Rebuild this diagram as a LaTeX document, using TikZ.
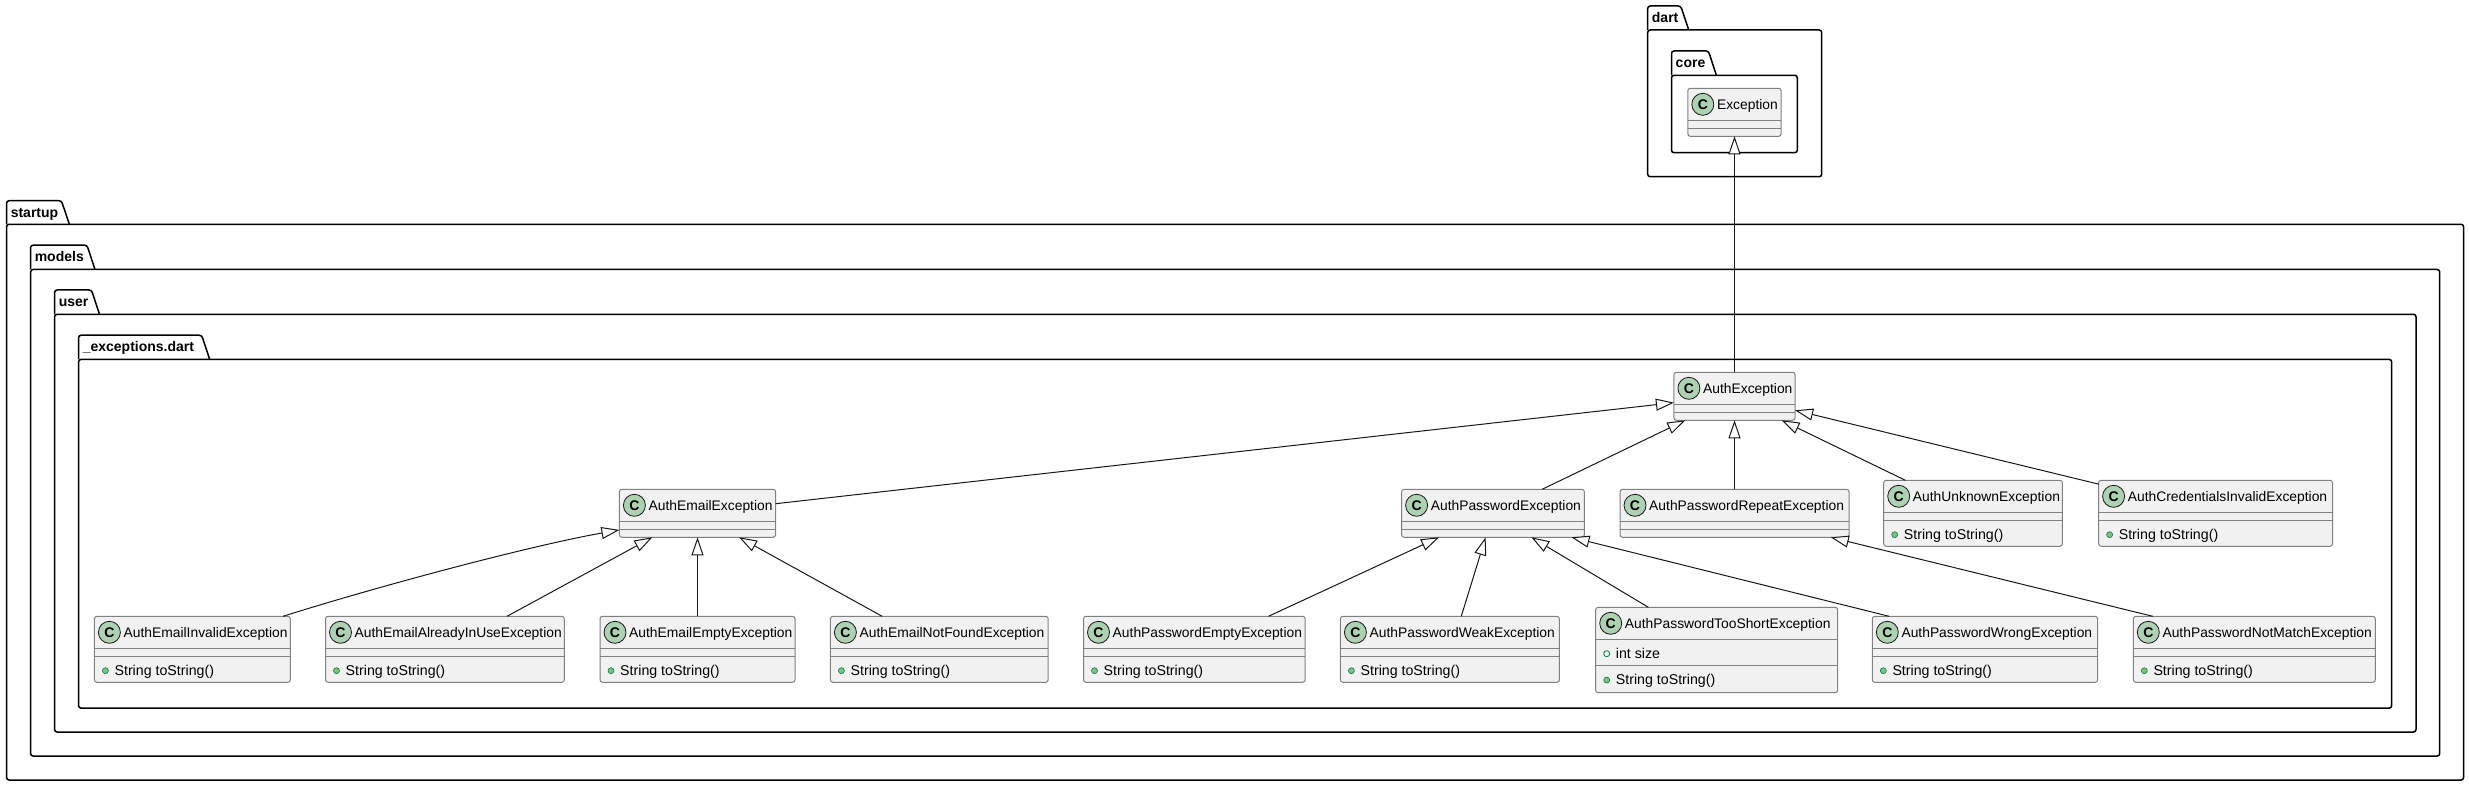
\documentclass[tikz,border=0pt]{standalone}
\usepackage{fontspec}
\setmainfont{Liberation Sans}
\usetikzlibrary{arrows.meta}
\definecolor{classfill}{HTML}{F1F1F1}
\definecolor{classline}{HTML}{808080}
\definecolor{classicon}{HTML}{ADD1B2}
\definecolor{darkline}{HTML}{181818}
\definecolor{methodfill}{HTML}{84BE84}
\definecolor{methodline}{HTML}{038048}
\tikzset{
  pkgbody/.style = {draw = black, line width = 1.5pt, rounded corners = 2.5pt, inner sep = 0pt, outer sep = 0pt},
  pkgtab/.style = {draw = black, line width = 1.5pt, rounded corners = 2.5pt},
  pkglabel/.style = {anchor = base west, inner sep = 0pt, font = \fontsize{14}{16}\selectfont\bfseries},
  classframe/.style = {draw = classline, fill = classfill, line width = 1pt, rounded corners = 2.5pt, inner sep = 0pt, outer sep = 0pt},
  classsep/.style = {draw = classline, line width = 1pt},
  classcircle/.style = {circle, draw = darkline, fill = classicon, line width = 0.8pt, minimum size = 22pt, inner sep = 0pt, font = \fontsize{14}{16}\selectfont\bfseries},
  classtitle/.style = {anchor = base west, inner sep = 0pt, font = \fontsize{13.85}{16}\selectfont},
  classmember/.style = {anchor = base west, inner sep = 0pt, font = \fontsize{14.2}{16}\selectfont},
  methoddot/.style = {circle, draw = methodline, fill = methodfill, line width = 0.6pt, minimum size = 6pt, inner sep = 0pt},
  fielddot/.style = {circle, draw = methodline, fill = classfill, line width = 0.8pt, minimum size = 6pt, inner sep = 0pt},
  extends/.style = {draw = darkline, line width = 1pt, -{Triangle[fill = white, length = 18pt, width = 12pt]}}
}
\newcommand{\pkgbox}[8]{
  \node[pkgbody, minimum width = {(#4-#3)*1pt}, minimum height = {(#7-#6)*1pt}] (#1) at ({(#3+#4)/2}, {(#6+#7)/2}) {};
  \draw[pkgtab] (#1.north west) -- (#3, #5) -- ({#8-8}, #5) -- (#8, #6);
  \node[pkglabel] (#1Tab) at ({#3+4}, {#5+16.5}) {#2};
}
\newcommand{\classbox}[7]{
  \node[classframe, minimum width = {(#3-#2)*1pt}, minimum height = {(#5-#4)*1pt}] (#1) at ({(#2+#3)/2}, {(#4+#5)/2}) {};
  \draw[classsep] ([yshift = -32pt]#1.north west) -- ([yshift = -32pt]#1.north east);
  \draw[classsep] ([yshift = -#7pt]#1.north west) -- ([yshift = -#7pt]#1.north east);
  \node[classcircle] (#1Icon) at ({#2+15}, {#4+16}) {C};
  \node[classtitle] (#1Title) at ({#2+29}, {#4+21}) {#6};
}
\newcommand{\classrow}[6]{
  \node[#4] (#1Dot#5) at ({#2+11}, {#3-4.6}) {};
  \node[classmember] (#1Row#5) at ({#2+20}, #3) {#6};
}
\begin{document}
\begin{tikzpicture}[x = 1pt, y = -1pt]
\useasboundingbox (0, 0) rectangle (2469, 786);
\pkgbox{Dart}{dart}{1647.7}{1821.7}{6}{30}{176.7}{1688.7}
\pkgbox{Core}{core}{1671.5}{1797.3}{51}{75.3}{152.7}{1716.4}
\pkgbox{Startup}{startup}{6.6}{2463.6}{200.7}{224.3}{780}{69.4}
\pkgbox{Models}{models}{30.6}{2439.7}{245.2}{269.5}{756}{95}
\pkgbox{User}{user}{54.6}{2416}{290}{314.3}{732}{99.5}
\pkgbox{Dartfile}{\_exceptions.dart}{78.6}{2391.6}{335.2}{359.4}{708.2}{209.7}
\classbox{Exc}{1687.8}{1781.2}{88.3}{136.3}{Exception}{40}
\classbox{Auth}{1673.9}{1795.1}{372.3}{420.3}{AuthException}{40}
\classbox{Em}{619.4}{775.6}{489.3}{537.3}{AuthEmailException}{40}
\classbox{Pw}{1401.6}{1584.3}{489.3}{537.3}{AuthPasswordException}{40}
\classbox{Rep}{1620}{1849}{489.3}{537.3}{AuthPasswordRepeatException}{40}
\classbox{Unk}{1883.7}{2062.4}{480.3}{546.3}{AuthUnknownException}{40}
\classbox{Cred}{2098.6}{2332.5}{480.3}{546.3}{AuthCredentialsInvalidException}{40}
\classbox{EmInv}{94.4}{290.3}{616.3}{682.3}{AuthEmailInvalidException}{40}
\classbox{EmUse}{325.5}{564.3}{616.3}{682.3}{AuthEmailAlreadyInUseException}{40}
\classbox{EmEmp}{600}{795}{616.3}{682.3}{AuthEmailEmptyException}{40}
\classbox{EmNf}{830.4}{1048.2}{616.3}{682.3}{AuthEmailNotFoundException}{40}
\classbox{PwEmp}{1083.5}{1305.2}{616.3}{682.3}{AuthPasswordEmptyException}{40}
\classbox{PwWeak}{1340.4}{1559.4}{616.3}{682.3}{AuthPasswordWeakException}{40}
\classbox{PwShort}{1595.7}{1837.7}{607.3}{692.7}{AuthPasswordTooShortException}{58.4}
\classbox{PwWrong}{1872.3}{2097.6}{616.3}{682.3}{AuthPasswordWrongException}{40}
\classbox{PwNm}{2133.3}{2375.3}{616.3}{682.3}{AuthPasswordNotMatchException}{40}
\classrow{Unk}{1883.7}{539.3}{methoddot}{A}{String toString()}
\classrow{Cred}{2098.6}{539.3}{methoddot}{A}{String toString()}
\classrow{EmInv}{94.4}{675.3}{methoddot}{A}{String toString()}
\classrow{EmUse}{325.5}{675.3}{methoddot}{A}{String toString()}
\classrow{EmEmp}{600}{675.3}{methoddot}{A}{String toString()}
\classrow{EmNf}{830.4}{675.3}{methoddot}{A}{String toString()}
\classrow{PwEmp}{1083.5}{675.3}{methoddot}{A}{String toString()}
\classrow{PwWeak}{1340.4}{675.3}{methoddot}{A}{String toString()}
\classrow{PwShort}{1595.7}{658.3}{fielddot}{A}{int size}
\classrow{PwShort}{1595.7}{684.7}{methoddot}{B}{String toString()}
\classrow{PwWrong}{1872.3}{675.3}{methoddot}{A}{String toString()}
\classrow{PwNm}{2133.3}{675.3}{methoddot}{A}{String toString()}
\begin{scope}[every edge/.style = {extends}]
\path (Auth.north) edge (Exc.south);
\path (Em.7.4) edge (Auth.186);
\path (Pw.26.3) edge (Auth.206);
\path (Rep.north) edge (Auth.south);
\path (Unk.154) edge (Auth.-27);
\path (Cred.166.1) edge (Auth.-13.5);
\path (EmUse.28.1) edge (Em.208.7);
\path (EmEmp.north) edge (Em.south);
\path (EmNf.150.8) edge (Em.-30.4);
\path (PwEmp.24.7) edge (Pw.204.9);
\path (PwWeak.71.9) edge (Pw.253);
\path (PwShort.148.7) edge (Pw.-32.5);
\path (PwWrong.161.5) edge (Pw.-17.6);
\path (PwNm.162.8) edge (Rep.-14.4);
\end{scope}
\draw[extends] (EmInv.20.7) .. controls +(95, -30) and +(-90, 16) .. (Em.192);
\end{tikzpicture}
\end{document}
